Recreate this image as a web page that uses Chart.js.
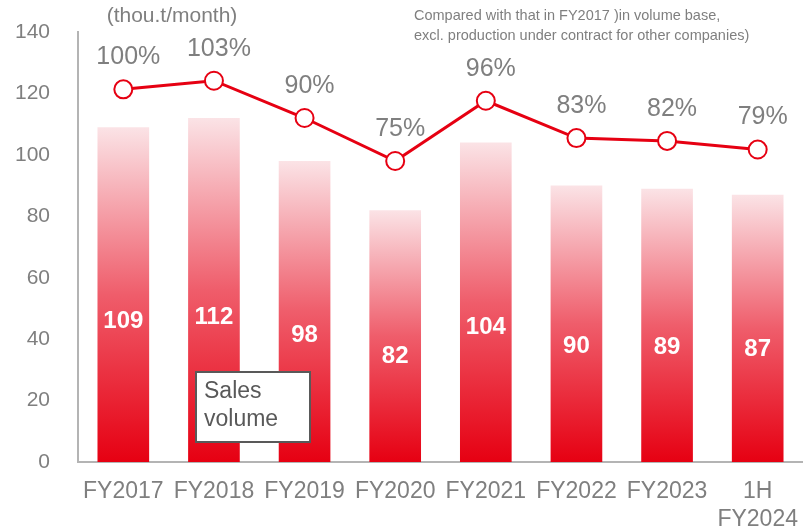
<!DOCTYPE html>
<html>
<head>
<meta charset="utf-8">
<script src="https://cdn.jsdelivr.net/npm/chart.js@4"></script>
<style>
  html, body { margin: 0; padding: 0; background: #fff; }
  #wrap { width: 803px; height: 526px; position: relative; }
</style>
</head>
<body>
<div id="wrap"><canvas id="salesChart"></canvas></div>
<script>
// values
const categories = ['FY2017', 'FY2018', 'FY2019', 'FY2020', 'FY2021', 'FY2022', 'FY2023', ['1H', 'FY2024']];
const salesVolume = [109, 112, 98, 82, 104, 90, 89, 87];      // thou.t/month
const vsFY2017 = [100, 103, 90, 75, 96, 83, 82, 79];          // %
const yTicks = [0, 20, 40, 60, 80, 100, 120, 140];

const GRAY = '#7f7f7f';
const RED = '#e60012';
const FONT = '"Liberation Sans", Arial, sans-serif';

function barGradient(c) {
    const chart = c.chart;
    const y = chart.scales.y;
    if (!y || c.raw == null) return RED;
    const top = y.getPixelForValue(c.raw);
    const bottom = y.getPixelForValue(0);
    if (!isFinite(top) || !isFinite(bottom) || top === bottom) return RED;
    const g = chart.ctx.createLinearGradient(0, bottom, 0, top);
    g.addColorStop(0, RED);
    g.addColorStop(0.5, '#ef5d6b');
    g.addColorStop(1, '#fbe3e6');
    return g;
}

// labels, note texts and the "Sales volume" box
const extras = {
    id: 'extras',
    afterDatasetsDraw(chart) {
        const ctx = chart.ctx;
        const y = chart.scales.y;
        ctx.save();
        ctx.textAlign = 'center';
        ctx.textBaseline = 'middle';

        // bar values (white, bold, inside the bars)
        ctx.fillStyle = '#fff';
        ctx.font = 'bold 24px ' + FONT;
        chart.getDatasetMeta(1).data.forEach((bar, i) => {
            ctx.fillText(String(salesVolume[i]), bar.x, y.getPixelForValue(salesVolume[i] * 0.42));
        });

        // percentage labels above the points
        ctx.fillStyle = GRAY;
        ctx.font = '25px ' + FONT;
        chart.getDatasetMeta(0).data.forEach((pt, i) => {
            ctx.fillText(vsFY2017[i] + '%', pt.x + 5, pt.y - 32);
        });

        // unit
        ctx.font = '21px ' + FONT;
        ctx.fillText('(thou.t/month)', 172, 16);

        // note
        ctx.textAlign = 'left';
        ctx.font = '14.5px ' + FONT;
        ctx.fillText('Compared with that in FY2017 )in volume base,', 414, 16);
        ctx.fillText('excl. production under contract for other companies)', 414, 36);

        // series box
        ctx.fillStyle = '#fff';
        ctx.fillRect(196, 372, 114, 70);
        ctx.strokeStyle = '#595959';
        ctx.lineWidth = 2;
        ctx.strokeRect(196, 372, 114, 70);
        ctx.fillStyle = '#595959';
        ctx.font = '23px ' + FONT;
        ctx.fillText('Sales', 204, 392);
        ctx.fillText('volume', 204, 420);
        ctx.restore();
    }
};

document.addEventListener('DOMContentLoaded', function () {
    const ctx = document.getElementById('salesChart').getContext('2d');
    new Chart(ctx, {
        data: {
            labels: categories,
            datasets: [
                {
                    type: 'line',
                    label: 'vs FY2017',
                    data: vsFY2017,
                    yAxisID: 'y2',
                    borderColor: RED,
                    borderWidth: 3,
                    pointRadius: 9,
                    pointBorderWidth: 2,
                    pointBackgroundColor: '#fff',
                    pointBorderColor: RED,
                    tension: 0,
                    order: 0
                },
                {
                    type: 'bar',
                    label: 'Sales volume',
                    data: salesVolume,
                    yAxisID: 'y',
                    backgroundColor: barGradient,
                    barPercentage: 0.57,
                    categoryPercentage: 1,
                    order: 1
                }
            ]
        },
        options: {
            responsive: true,
            maintainAspectRatio: false,
            animation: false,
            layout: { autoPadding: false, padding: { top: 32, right: 0, left: 0, bottom: 0 } },
            plugins: {
                legend: { display: false },
                tooltip: { enabled: false }
            },
            scales: {
                x: {
                    grid: { display: false, drawTicks: false },
                    border: { display: true, color: '#b4b4b4', width: 2 },
                    ticks: { color: GRAY, font: { family: FONT, size: 23 }, padding: 16, maxRotation: 0, autoSkip: false },
                    afterFit(scale) { scale.height = 64; scale.paddingLeft = 0; scale.paddingRight = 0; }
                },
                y: {
                    min: 0,
                    max: 140,
                    afterBuildTicks(scale) { scale.ticks = yTicks.map(v => ({ value: v })); },
                    grid: { display: false, drawTicks: false },
                    border: { display: true, color: '#b4b4b4', width: 2 },
                    ticks: { color: GRAY, font: { family: FONT, size: 21 }, padding: 28 },
                    afterFit(scale) { scale.width = 78; scale.paddingTop = 0; scale.paddingBottom = 0; }
                },
                y2: {
                    display: false,
                    min: -30,
                    max: 120
                }
            }
        },
        plugins: [extras]
    });
});
</script>
</body>
</html>
